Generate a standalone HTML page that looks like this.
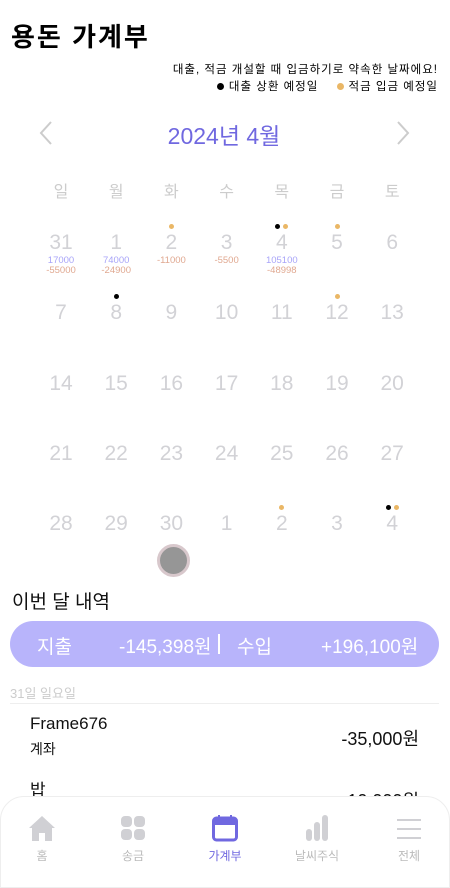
<!DOCTYPE html>
<html><head><meta charset="utf-8">
<style>
*{margin:0;padding:0;box-sizing:border-box}
body{width:450px;height:888px;overflow:hidden;background:#fff;font-family:"Liberation Sans","Noto Sans CJK KR",sans-serif;position:relative}
.abs{position:absolute}
.c{position:absolute;transform:translateX(-50%);white-space:nowrap;text-align:center}
</style></head><body>
<div class="abs" style="left:11px;top:17px;font-size:26px;font-weight:bold;color:#000;letter-spacing:2px">용돈 가계부</div>
<div class="abs" style="right:12px;top:61px;font-size:11.5px;color:#000;letter-spacing:1px">대출, 적금 개설할 때 입금하기로 약속한 날짜에요!</div>
<div class="abs" style="right:12px;top:78px;font-size:11.5px;color:#000;letter-spacing:1px">
<span><span style="display:inline-block;width:7px;height:7px;border-radius:50%;background:#000;margin-right:5px"></span>대출 상환 예정일</span>
<span style="margin-left:14px"><span style="display:inline-block;width:7px;height:7px;border-radius:50%;background:#eab766;margin-right:5px"></span>적금 입금 예정일</span></div>
<svg class="abs" style="left:38px;top:120px" width="16" height="26"><polyline points="13,2 3,13 13,24" fill="none" stroke="#ccc" stroke-width="2"/></svg>
<svg class="abs" style="left:395px;top:120px" width="16" height="26"><polyline points="3,2 13,13 3,24" fill="none" stroke="#ccc" stroke-width="2"/></svg>
<div class="c" style="left:224px;top:117px;font-size:23px;color:#7068e0">2024년 4월</div>
<div id="cal"></div>
<div class="abs" style="left:157px;top:544px;width:33px;height:33px;border-radius:50%;background:#969696;border:3px solid #d8c8cc"></div>
<div class="abs" style="left:12px;top:587px;font-size:19px;color:#111">이번 달 내역</div>
<div class="abs" style="left:10px;top:621px;width:429px;height:46px;border-radius:23px;background:#b8b4fb;color:#fff;font-size:19px">
<span class="abs" style="left:27px;top:11px">지출</span>
<span class="abs" style="left:109px;top:11px">-145,398원</span>
<span class="abs" style="left:208px;top:13px;width:2px;height:20px;background:#fff"></span>
<span class="abs" style="left:227px;top:11px">수입</span>
<span class="abs" style="left:311px;top:11px">+196,100원</span></div>
<div class="abs" style="left:10px;top:683px;font-size:13px;color:#ccc">31일 일요일</div>
<div class="abs" style="left:10px;top:703px;width:429px;height:1px;background:#eee"></div>
<div class="abs" style="left:30px;top:714px;font-size:17px;color:#111">Frame676</div>
<div class="abs" style="left:30px;top:739px;font-size:14px;color:#111">계좌</div>
<div class="abs" style="right:31px;top:725px;font-size:18px;color:#111">-35,000원</div>
<div class="abs" style="left:30px;top:776px;font-size:17px;color:#111">밥</div>
<div class="abs" style="right:31px;top:787px;font-size:18px;color:#111">-10,000원</div>
<div class="abs" style="left:0;top:796px;width:450px;height:92px;background:#fff;border:1px solid #eee;border-radius:24px 24px 0 0">
 <div>
  <svg class="abs" style="left:27px;top:17px" width="28" height="28"><path d="M14 2 L27 14 L24 14 L24 27 L17 27 L17 19 L11 19 L11 27 L4 27 L4 14 L1 14 Z" fill="#d0d0d4"/></svg>
  <div class="c" style="left:41px;top:50px;font-size:12px;color:#bbb">홈</div></div>
 <div>
  <svg class="abs" style="left:120px;top:19px" width="25" height="25"><rect x="0" y="0" width="11" height="11" rx="4" fill="#d0d0d4"/><rect x="13" y="0" width="11" height="11" rx="4" fill="#d0d0d4"/><rect x="0" y="13" width="11" height="11" rx="4" fill="#d0d0d4"/><rect x="13" y="13" width="11" height="11" rx="4" fill="#d0d0d4"/></svg>
  <div class="c" style="left:132px;top:50px;font-size:12px;color:#bbb">송금</div></div>
 <div>
  <svg class="abs" style="left:211px;top:17px" width="26" height="28"><rect x="1.5" y="4" width="23" height="22" rx="3" fill="none" stroke="#7068e0" stroke-width="3"/><rect x="1.5" y="4" width="23" height="7" fill="#7068e0"/><rect x="6" y="1" width="2" height="5" fill="#7068e0"/><rect x="18" y="1" width="2" height="5" fill="#7068e0"/></svg>
  <div class="c" style="left:224px;top:50px;font-size:12px;color:#7068e0">가계부</div></div>
 <div>
  <svg class="abs" style="left:304px;top:17px" width="24" height="28"><rect x="1" y="15" width="6" height="12" rx="3" fill="#d0d0d4"/><rect x="9" y="8" width="6" height="19" rx="3" fill="#d0d0d4"/><rect x="17" y="1" width="6" height="26" rx="3" fill="#d0d0d4"/></svg>
  <div class="c" style="left:316px;top:50px;font-size:12px;color:#bbb">날씨주식</div></div>
 <div>
  <svg class="abs" style="left:396px;top:21px" width="24" height="22"><rect x="0" y="1" width="24" height="2" fill="#d0d0d4"/><rect x="0" y="10" width="24" height="2" fill="#d0d0d4"/><rect x="0" y="19" width="24" height="2" fill="#d0d0d4"/></svg>
  <div class="c" style="left:408px;top:50px;font-size:12px;color:#bbb">전체</div></div>
</div>
<script>
const weekdays=["일","월","화","수","목","금","토"];
const days=[31,1,2,3,4,5,6,7,8,9,10,11,12,13,14,15,16,17,18,19,20,21,22,23,24,25,26,27,28,29,30,1,2,3,4];
const incomes=[17000,74000,null,null,105100,null,null];
const expenses=[-55000,-24900,-11000,-5500,-48998,null,null];
const loanDays=[4,8,34];
const savingsDays=[2,4,5,12,32,34];
const colX=i=>61+i*55.2;
const rowY=r=>243+r*70.3;
const cal=document.getElementById('cal');
function add(html,name,css){const d=document.createElement('div');d.className='c';d.style.cssText=css;d.textContent=html;


cal.appendChild(d);return d;}
weekdays.forEach((w,i)=>add(w,'weekday-label',`left:${colX(i)}px;top:178px;font-size:16px;color:#ccc`));
days.forEach((d,k)=>{const i=k%7,r=Math.floor(k/7);
 const el=add(String(d),'day-cell',`left:${colX(i)}px;top:${rowY(r)-12}px;font-size:21px;color:#d2d2d6`);
 
 if(r===0){let y=rowY(r)+12;
  if(incomes[i]!=null){add(String(incomes[i]),'day-income',`left:${colX(i)}px;top:${y}px;font-size:9.5px;color:#a8a4f8`);y+=10;}
  if(expenses[i]!=null){add(String(expenses[i]),'day-expense',`left:${colX(i)}px;top:${y}px;font-size:9.5px;color:#e0a890`);}
 }
 const hasL=loanDays.includes(k),hasS=savingsDays.includes(k);
 const dots=[];if(hasL)dots.push('#000');if(hasS)dots.push('#eab766');
 dots.forEach((c,j)=>{const dx=(j-(dots.length-1)/2)*8;
  const dot=document.createElement('div');dot.className='abs';
  dot.style.cssText=`left:${colX(i)+dx-2.5}px;top:${rowY(r)-19.5}px;width:5px;height:5px;border-radius:50%;background:${c}`;
  
  
  cal.appendChild(dot);});
});
</script>
</body></html>
